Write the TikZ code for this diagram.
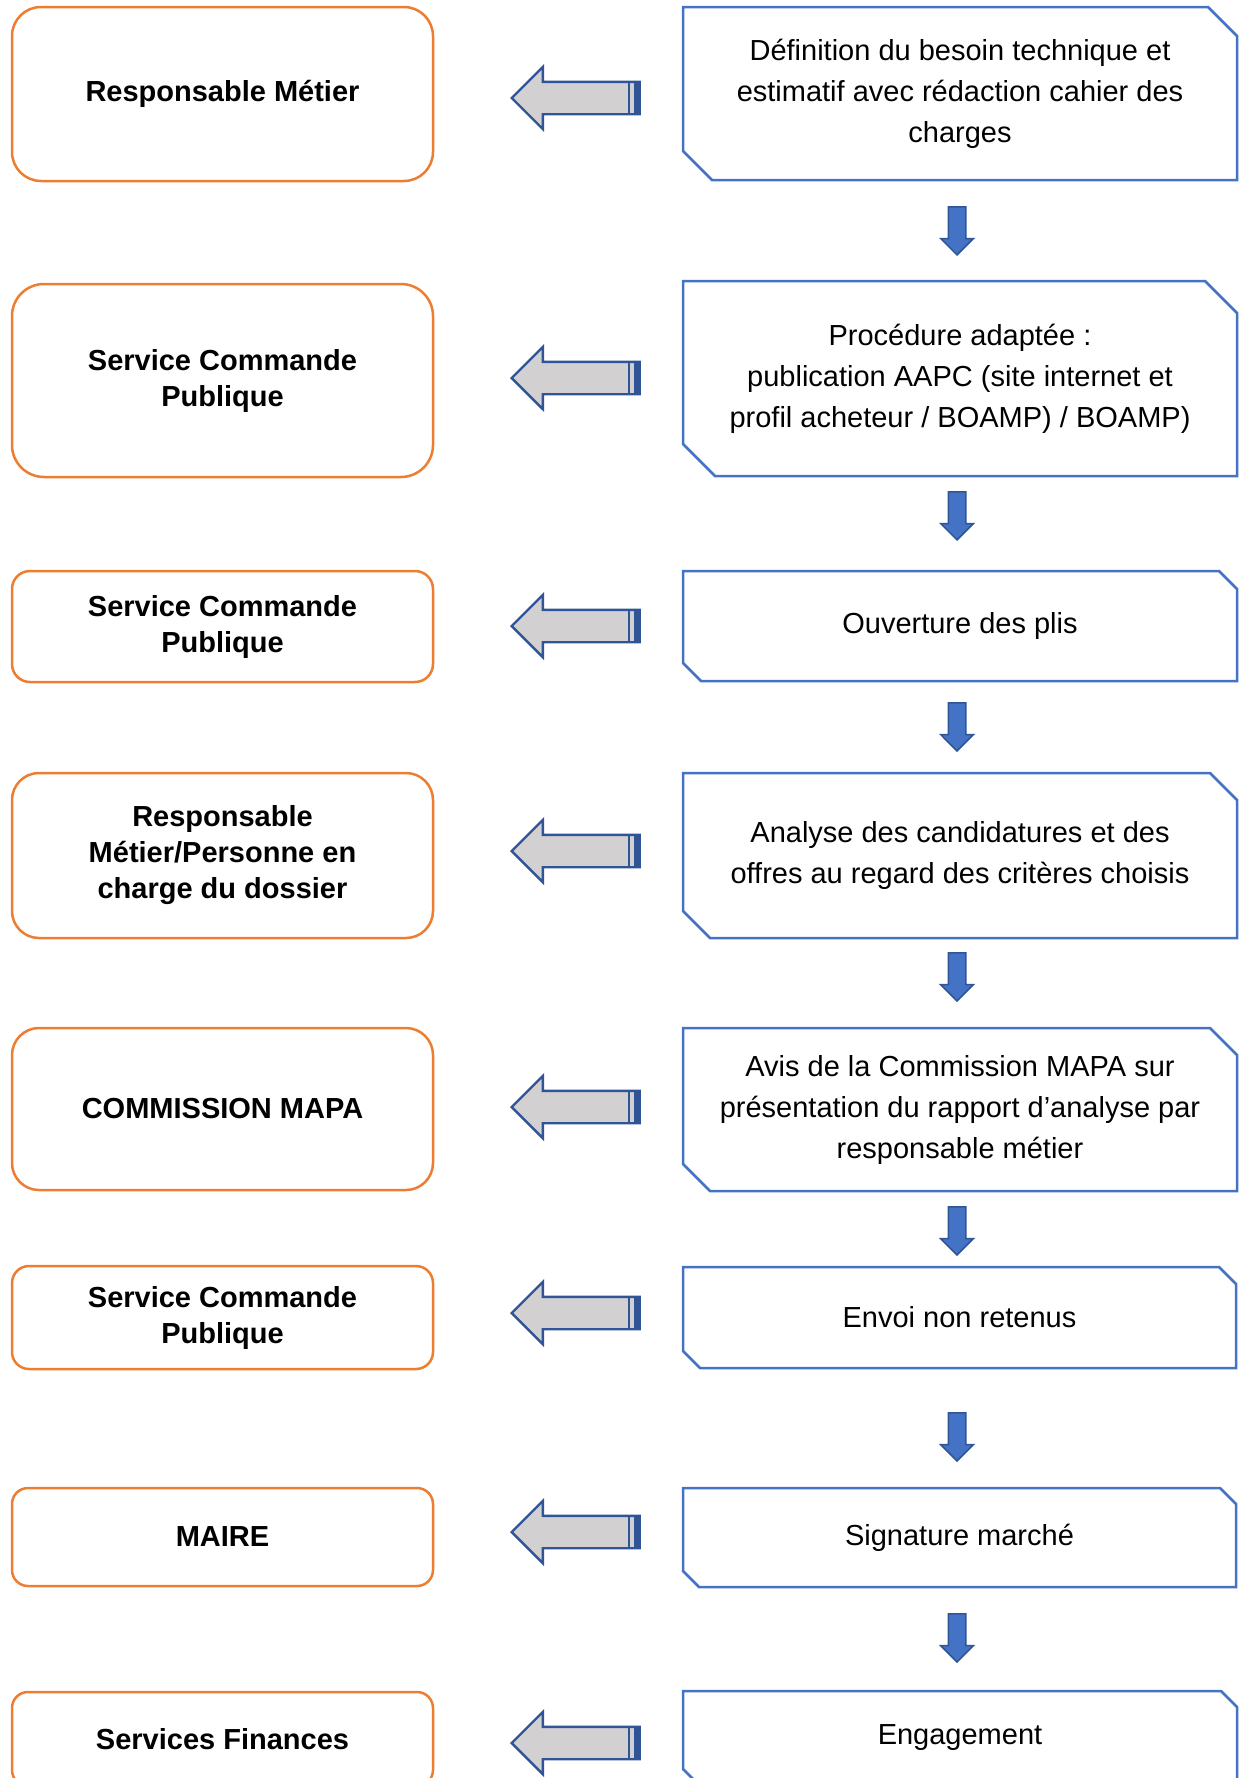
\documentclass[tikz,border=0pt]{standalone}
\usepackage{fontspec}
\setmainfont{Liberation Sans}
\usepackage{tikz}
\usetikzlibrary{shapes.arrows}

\definecolor{roleorange}{HTML}{ED7D31}
\definecolor{stepblue}{HTML}{4472C4}
\definecolor{arrowblue}{HTML}{2F5597}
\definecolor{arrowgray}{HTML}{D2D0D0}

\begin{document}
\begin{tikzpicture}[x=1pt, y=-1pt,
  role/.style={draw=roleorange, line width=2.5pt, rectangle, align=center,
    minimum width=421pt, font=\fontsize{29}{36}\selectfont\bfseries},
  stepbox/.style={rectangle, align=center, outer sep=0pt, minimum width=554pt,
    font=\fontsize{29}{41}\selectfont},
  stepline/.style={draw=stepblue, line width=2.5pt},
  handover/.style={single arrow, shape border rotate=180, anchor=tip,
    draw=arrowblue, line width=2.4pt, fill=arrowgray, inner sep=15pt,
    single arrow head extend=15pt, single arrow tip angle=90, minimum height=128pt,
    path picture={
      \fill[arrowblue] ([xshift=-6pt]path picture bounding box.north east) rectangle (path picture bounding box.south east);
      \draw[arrowblue, line width=2pt] ([xshift=-11pt]path picture bounding box.north east) -- ([xshift=-11pt]path picture bounding box.south east);}},
  onward/.style={single arrow, shape border rotate=270, anchor=tip,
    draw=arrowblue, line width=1.5pt, fill=stepblue, inner sep=8pt,
    single arrow head extend=7.5pt, single arrow tip angle=90, minimum height=48pt}]
 \useasboundingbox (0,0) rectangle (1245,1778);

 % who does it
 \node[role, minimum height=174pt, rounded corners=29pt] (r1) at (222.5,94) {Responsable Métier};
 \node[role, minimum height=193pt, rounded corners=32pt] (r2) at (222.5,380.5) {Service Commande\\Publique};
 \node[role, minimum height=111pt, rounded corners=18pt] (r3) at (222.5,626.5) {Service Commande\\Publique};
 \node[role, minimum height=165pt, rounded corners=27pt] (r4) at (222.5,855.5) {Responsable\\Métier/Personne en\\charge du dossier};
 \node[role, minimum height=162pt, rounded corners=27pt] (r5) at (222.5,1109) {COMMISSION MAPA};
 \node[role, minimum height=103pt, rounded corners=17pt] (r6) at (222.5,1317.5) {Service Commande\\Publique};
 \node[role, minimum height=98pt, rounded corners=16pt] (r7) at (222.5,1537) {MAIRE};
 \node[role, minimum height=94pt, rounded corners=16pt] (r8) at (222.5,1739) {Services Finances};

 % what is done
 \node[stepbox, minimum height=173pt] (s1) at (960,93.5) {Définition du besoin technique et\\estimatif avec rédaction cahier des\\charges};
 \node[stepbox, minimum height=195pt] (s2) at (960,378.5) {Procédure adaptée :\\publication AAPC (site internet et\\profil acheteur / BOAMP) / BOAMP)};
 \node[stepbox, minimum height=110pt] (s3) at (960,626) {Ouverture des plis};
 \node[stepbox, minimum height=165pt] (s4) at (960,855.5) {Analyse des candidatures et des\\offres au regard des critères choisis};
 \node[stepbox, minimum height=163pt] (s5) at (960,1109.5) {Avis de la Commission MAPA sur\\présentation du rapport d’analyse par\\responsable métier};
 \node[stepbox, minimum height=101pt, minimum width=553pt] (s6) at (959.5,1317.5) {Envoi non retenus};
 \node[stepbox, minimum height=99pt, minimum width=553pt] (s7) at (959.5,1537.5) {Signature marché};
 \node[stepbox, minimum height=94pt] (s8) at (960,1738) {Engagement};

 \foreach \n/\c in {s1/29,s2/32,s3/18,s4/27,s5/27,s6/17,s7/16,s8/16}
  \draw[stepline] (\n.north west) -- ([xshift=-1pt*\c]\n.north east) -- ([yshift=-1pt*\c]\n.north east)
   -- (\n.south east) -- ([xshift=1pt*\c]\n.south west) -- ([yshift=1pt*\c]\n.south west) -- cycle;

 % arrows
 \foreach \y [count=\i] in {98,378,626,851,1107,1313,1532,1743}
  \node[handover] (h\i) at (510,\y) {};
 \foreach \y [count=\i] in {256,541,752,1002,1256,1462,1663}
  \node[onward] (d\i) at (957,\y) {};
\end{tikzpicture}
\end{document}
